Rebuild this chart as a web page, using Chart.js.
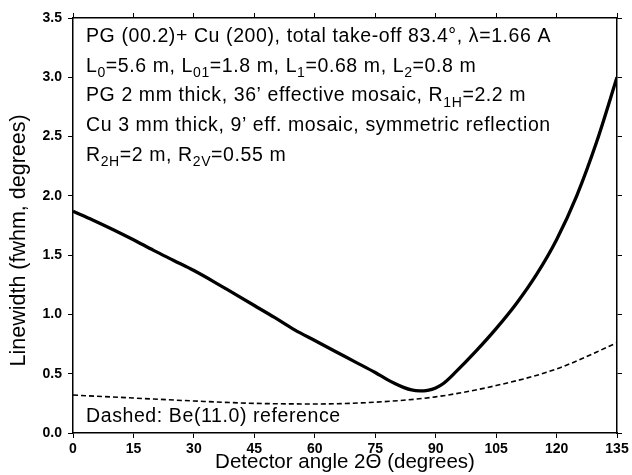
<!DOCTYPE html>
<html>
<head>
<meta charset="utf-8">
<script src="https://cdn.jsdelivr.net/npm/chart.js@4.4.1/dist/chart.umd.min.js"></script>
<style>
  html, body { margin: 0; padding: 0; background: #fff; }
  #wrap { width: 632px; height: 475px; }
</style>
</head>
<body>
<div id="wrap"><canvas id="linewidthChart" width="632" height="475"></canvas></div>
<script>
// solid curve: PG + Cu analyser
const solidAngles = [0, 5, 10, 15, 20, 25, 30, 35, 40, 45, 50, 55, 60, 65, 70, 75, 78, 80, 82, 84, 86, 88, 90, 92, 95, 100, 105, 110, 115, 120, 125, 130, 135];
const solidWidths = [1.87, 1.795, 1.715, 1.63, 1.54, 1.455, 1.37, 1.275, 1.175, 1.075, 0.975, 0.87, 0.78, 0.69, 0.60, 0.51, 0.45, 0.415, 0.385, 0.363, 0.355, 0.36, 0.38, 0.42, 0.515, 0.69, 0.88, 1.09, 1.335, 1.63, 2.00, 2.46, 3.00];
// dashed curve: Be(11.0) reference
const dashedAngles = [0, 15, 30, 45, 60, 75, 90, 105, 120, 135];
const dashedWidths = [0.32, 0.295, 0.27, 0.25, 0.245, 0.26, 0.305, 0.40, 0.54, 0.76];

const xTicks = [0, 15, 30, 45, 60, 75, 90, 105, 120, 135];
const yTicks = [0.0, 0.5, 1.0, 1.5, 2.0, 2.5, 3.0, 3.5];

const font = '"Liberation Sans", Arial, Helvetica, sans-serif';

// text lines, each is a list of [text, 'sub'?] pieces
const noteLines = [
    [['PG (00.2)+ Cu (200), total take-off 83.4°, λ=1.66 A']],
    [['L'], ['0', 'sub'], ['=5.6 m, L'], ['01', 'sub'], ['=1.8 m, L'], ['1', 'sub'], ['=0.68 m, L'], ['2', 'sub'], ['=0.8 m']],
    [['PG 2 mm thick, 36\u2019 effective mosaic, R'], ['1H', 'sub'], ['=2.2 m']],
    [['Cu 3 mm thick, 9\u2019 eff. mosaic, symmetric reflection']],
    [['R'], ['2H', 'sub'], ['=2 m, R'], ['2V', 'sub'], ['=0.55 m']]
];
const footNote = [['Dashed: Be(11.0) reference']];

function drawRuns(ctx, runs, x, y, size) {
    runs.forEach(function (r) {
        const sub = r[1] === 'sub';
        ctx.font = (sub ? Math.round(size * 0.7) : size) + 'px ' + font;
        ctx.fillText(r[0], x, sub ? y + size * 0.28 : y);
        x += ctx.measureText(r[0]).width;
    });
}

const notesPlugin = {
    id: 'notes',
    afterDatasetsDraw(chart) {
        const ctx = chart.ctx;
        const a = chart.chartArea;
        ctx.save();
        ctx.fillStyle = '#000';
        ctx.textBaseline = 'alphabetic';
        ctx.letterSpacing = '0.6px';
        noteLines.forEach(function (line, i) {
            drawRuns(ctx, line, a.left + 13, a.top + 24 + i * 29.7, 19.5);
        });
        drawRuns(ctx, footNote, a.left + 13, a.bottom - 11, 19.5);
        ctx.restore();
    }
};

function fixedTicks(values) {
    return function (scale) {
        scale.ticks = values.map(function (v) { return { value: v }; });
    };
}

new Chart(document.getElementById('linewidthChart'), {
    type: 'line',
    data: {
        datasets: [{
            label: 'PG + Cu',
            data: solidAngles.map(function (a, i) { return { x: a, y: solidWidths[i] }; }),
            borderColor: '#000',
            borderWidth: 3.3,
            pointRadius: 0,
            cubicInterpolationMode: 'monotone',
            fill: false
        }, {
            label: 'Be(11.0)',
            data: dashedAngles.map(function (a, i) { return { x: a, y: dashedWidths[i] }; }),
            borderColor: '#000',
            borderWidth: 1.6,
            borderDash: [5, 3],
            pointRadius: 0,
            cubicInterpolationMode: 'monotone',
            fill: false
        }]
    },
    options: {
        responsive: false,
        animation: false,
        devicePixelRatio: 1,
        layout: { padding: 0 },
        plugins: {
            legend: { display: false },
            tooltip: { enabled: false }
        },
        scales: {
            x: {
                type: 'linear',
                position: 'bottom',
                min: 0,
                max: 135,
                afterBuildTicks: fixedTicks(xTicks),
                afterFit(scale) { scale.height = 42; },
                grid: { drawOnChartArea: false, tickLength: 5, color: '#000' },
                border: { color: '#000', width: 1.5 },
                ticks: {
                    color: '#000',
                    padding: 3,
                    maxRotation: 0,
                    font: { family: font, size: 14, weight: 'bold' }
                },
                title: {
                    display: true,
                    text: 'Detector angle 2\u0398 (degrees)',
                    color: '#000',
                    padding: { top: -4, bottom: 0 },
                    font: { family: font, size: 20.5 }
                }
            },
            x2: {
                type: 'linear',
                position: 'top',
                min: 0,
                max: 135,
                afterBuildTicks: fixedTicks(xTicks),
                afterFit(scale) { scale.height = 18; },
                grid: { drawOnChartArea: false, tickLength: 5, color: '#000' },
                border: { color: '#000', width: 1.5 },
                ticks: { padding: 0, font: { size: 1 }, callback: function () { return ''; } }
            },
            y: {
                type: 'linear',
                position: 'left',
                min: 0,
                max: 3.5,
                afterBuildTicks: fixedTicks(yTicks),
                afterFit(scale) { scale.width = 73; },
                grid: { drawOnChartArea: false, tickLength: 5, color: '#000' },
                border: { color: '#000', width: 1.5 },
                ticks: {
                    color: '#000',
                    padding: 6,
                    font: { family: font, size: 14, weight: 'bold' },
                    callback: function (v) { return v.toFixed(1); }
                },
                title: {
                    display: true,
                    // trailing spaces push the centred text a little lower, as in the original
                    text: 'Linewidth (fwhm, degrees)     ',
                    color: '#000',
                    padding: { top: 6, bottom: 4 },
                    font: { family: font, size: 21.5 }
                }
            },
            y2: {
                type: 'linear',
                position: 'right',
                min: 0,
                max: 3.5,
                afterBuildTicks: fixedTicks(yTicks),
                afterFit(scale) { scale.width = 15; },
                grid: { drawOnChartArea: false, tickLength: 5, color: '#000' },
                border: { color: '#000', width: 1.5 },
                ticks: { padding: 0, font: { size: 1 }, callback: function () { return ''; } }
            }
        }
    },
    plugins: [notesPlugin]
});
</script>
</body>
</html>
